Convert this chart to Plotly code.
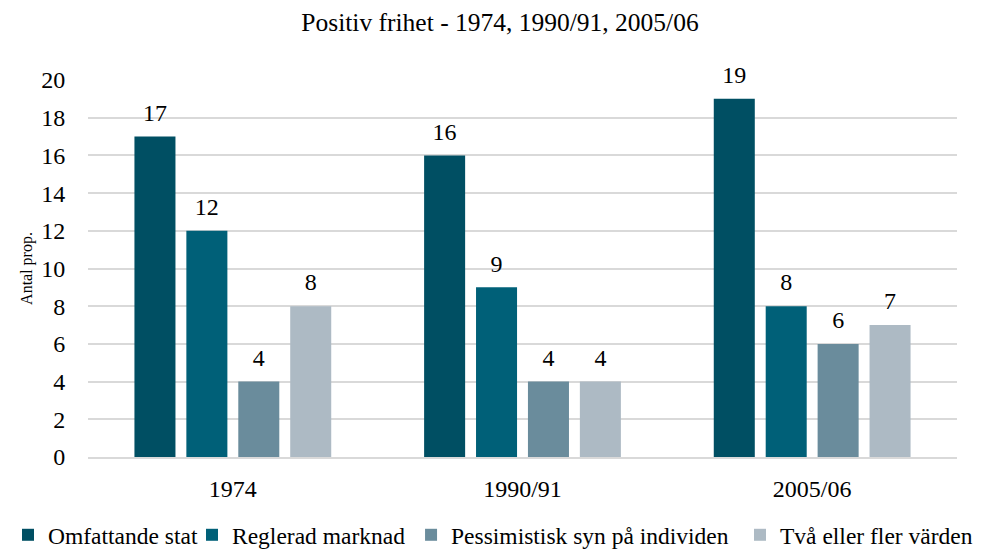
import plotly.graph_objects as go

categories = ["1974", "1990/91", "2005/06"]
series_names = ["Omfattande stat", "Reglerad marknad", "Pessimistisk syn på individen", "Två eller fler värden"]
omfattande = [17, 16, 19]
reglerad = [12, 9, 8]
pessimistisk = [4, 4, 6]
tva = [8, 4, 7]
colors = ["#004F63", "#006078", "#6A8C9C", "#ADBAC4"]
y_ticks = list(range(0, 21, 2))

FONT = "Liberation Serif"
legend_ids = ["legend", "legend2", "legend3", "legend4"]
legend_x = [-0.0205, 0.187, 0.4096, 0.7439]

fig = go.Figure()
for i, (name, vals, col) in enumerate(zip(series_names, [omfattande, reglerad, pessimistisk, tva], colors)):
    fig.add_trace(go.Bar(
        x=categories, y=vals, name=name, offsetgroup=str(i), legend=legend_ids[i],
        marker=dict(color=col, line=dict(width=0)),
    ))
for i, vals in enumerate([omfattande, reglerad, pessimistisk, tva]):
    fig.add_trace(go.Scatter(
        x=categories, y=vals, mode="markers+text", offsetgroup=str(i),
        marker=dict(size=14, opacity=0),
        text=[str(v) for v in vals], textposition="top center",
        textfont=dict(family=FONT, size=24, color="#000000"),
        showlegend=False, hoverinfo="skip", cliponaxis=False,
    ))

legend_common = dict(orientation="h", xanchor="left", xref="container", yref="container",
                     y=0.0418, yanchor="middle",
                     font=dict(family=FONT, size=23.5, color="#000000"),
                     itemwidth=30, bgcolor="rgba(0,0,0,0)")

fig.update_layout(
    width=984, height=550,
    paper_bgcolor="white", plot_bgcolor="white",
    font=dict(family=FONT, size=24, color="#000000"),
    title=dict(text="Positiv frihet - 1974, 1990/91, 2005/06", x=0.5, xanchor="center",
               y=0.974, yanchor="middle", font=dict(family=FONT, size=25.5, color="#000000")),
    margin=dict(l=80, r=35, t=72, b=101, autoexpand=False),
    barmode="group", bargap=0.283, bargroupgap=0.21,
    scattermode="group", scattergap=0.283,
    showlegend=True,
    legend=dict(x=legend_x[0], **legend_common),
    legend2=dict(x=legend_x[1], **legend_common),
    legend3=dict(x=legend_x[2], **legend_common),
    legend4=dict(x=legend_x[3], **legend_common),
    xaxis=dict(showgrid=False, showline=True, linecolor="#d9d9d9", linewidth=1.5,
               ticks="outside", ticklen=9, tickcolor="rgba(0,0,0,0)",
               tickfont=dict(family=FONT, size=24, color="#000000")),
    yaxis=dict(range=[0, 20], tickvals=y_ticks, showgrid=True, gridcolor="#d9d9d9", gridwidth=1.5,
               zeroline=False, showline=False,
               ticks="outside", ticklen=17, tickcolor="rgba(0,0,0,0)",
               tickfont=dict(family=FONT, size=24, color="#000000"),
               title=dict(text="Antal prop.", font=dict(family=FONT, size=16, color="#000000"), standoff=4)),
)

fig.write_html("out.html")
